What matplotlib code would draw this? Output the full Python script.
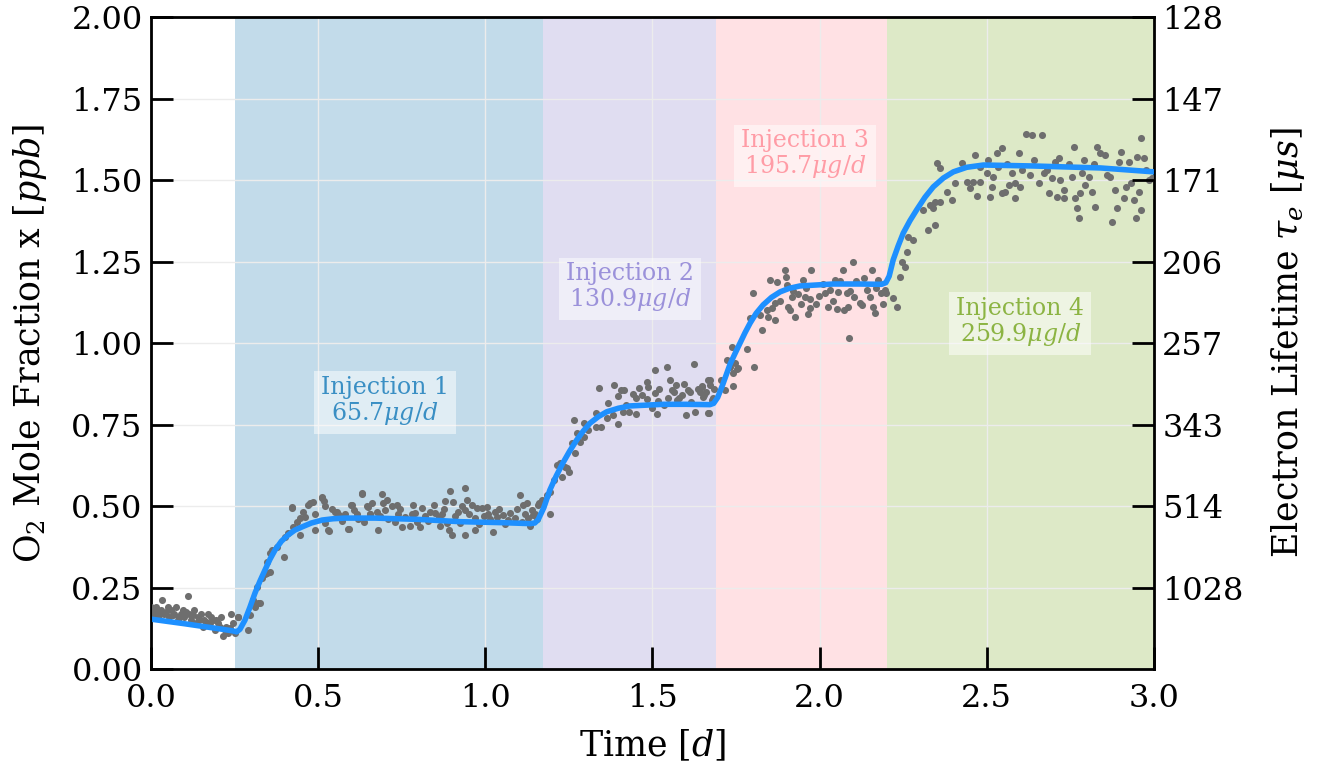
"""
O2 injection steps: measured mole fraction vs. time with fitted model.
"""

import numpy as np
import matplotlib.pyplot as plt

plt.rcParams["font.family"] = "DejaVu Serif"
plt.rcParams["mathtext.fontset"] = "dejavuserif"

# --- Injection periods [d] and labels ---
inj_starts = [0.25, 1.1726, 1.690, 2.2017]
inj_ends = [1.1726, 1.690, 2.2017, 3.0]
inj_labels = ["Injection 1\n65.7$\\mu g/d$", "Injection 2\n130.9$\\mu g/d$",
              "Injection 3\n195.7$\\mu g/d$", "Injection 4\n259.9$\\mu g/d$"]
inj_label_x = [0.70, 1.433, 1.956, 2.60]
inj_label_y = [0.82, 1.169, 1.577, 1.064]
span_colors = ["#c2dbea", "#e0ddf1", "#ffe1e4", "#dde9c7"]
text_colors = ["#3a8fc4", "#9b91da", "#ff9ca6", "#8cb443"]

# --- Right axis: electron lifetime labels ---
lifetime_ticks = [0.25, 0.50, 0.75, 1.00, 1.25, 1.50, 1.75, 2.00]
lifetime_labels = ["1028", "514", "343", "257", "206", "171", "147", "128"]

# --- Fitted model curve ---
fit_t = [0.0, 0.1, 0.2, 0.245, 0.256, 0.266, 0.281, 0.296, 0.311, 0.326, 0.341,
         0.356, 0.371, 0.39, 0.41, 0.43, 0.452, 0.48, 0.512, 0.545, 0.58, 0.67,
         0.8, 0.924, 1.05, 1.135, 1.148, 1.158, 1.175, 1.193, 1.212, 1.232,
         1.252, 1.273, 1.293, 1.313, 1.338, 1.363, 1.398, 1.433, 1.532, 1.60,
         1.672, 1.683, 1.695, 1.71, 1.732, 1.747, 1.762, 1.777, 1.792, 1.81,
         1.831, 1.856, 1.882, 1.91, 1.941, 2.04, 2.12, 2.185, 2.198, 2.208,
         2.22, 2.235, 2.25, 2.27, 2.29, 2.315, 2.34, 2.37, 2.40, 2.44, 2.49,
         2.64, 2.84, 3.0]
fit_x = [0.153, 0.139, 0.124, 0.117, 0.114, 0.122, 0.150, 0.190, 0.233, 0.270,
         0.304, 0.337, 0.365, 0.392, 0.411, 0.426, 0.436, 0.448, 0.457, 0.461,
         0.463, 0.463, 0.459, 0.452, 0.449, 0.446, 0.448, 0.458, 0.495, 0.549,
         0.592, 0.632, 0.668, 0.702, 0.730, 0.754, 0.774, 0.789, 0.800, 0.807,
         0.812, 0.812, 0.811, 0.815, 0.833, 0.872, 0.935, 0.968, 1.000, 1.032,
         1.061, 1.091, 1.117, 1.140, 1.157, 1.168, 1.175, 1.181, 1.181, 1.180,
         1.185, 1.205, 1.255, 1.298, 1.337, 1.375, 1.408, 1.447, 1.479, 1.506,
         1.525, 1.539, 1.546, 1.543, 1.537, 1.525]

# --- Measured points (time [d], mole fraction [ppb]) ---
meas_t = [
    0.000, 0.005, 0.010, 0.015, 0.020, 0.030, 0.032, 0.040, 0.050, 0.055,
    0.060, 0.070, 0.075, 0.080, 0.090, 0.095, 0.100, 0.110, 0.115, 0.120,
    0.130, 0.135, 0.140, 0.150, 0.155, 0.160, 0.170, 0.175, 0.180, 0.190,
    0.195, 0.200, 0.210, 0.215, 0.220, 0.225, 0.230, 0.240, 0.245, 0.250,
    0.260, 0.261, 0.290, 0.296, 0.305, 0.306, 0.310, 0.316, 0.320, 0.326,
    0.331, 0.341, 0.346, 0.346, 0.356, 0.356, 0.361, 0.376, 0.399, 0.401,
    0.411, 0.421, 0.423, 0.426, 0.436, 0.446, 0.446, 0.456, 0.461, 0.471,
    0.476, 0.486, 0.491, 0.491, 0.510, 0.511, 0.516, 0.521, 0.530, 0.531,
    0.551, 0.556, 0.561, 0.581, 0.590, 0.591, 0.599, 0.600, 0.606, 0.616,
    0.630, 0.631, 0.636, 0.645, 0.649, 0.655, 0.656, 0.675, 0.680, 0.690,
    0.695, 0.700, 0.705, 0.730, 0.735, 0.740, 0.750, 0.780, 0.785, 0.795,
    0.805, 0.810, 0.835, 0.845, 0.860, 0.870, 0.880, 0.885, 0.890, 0.894,
    0.899, 0.904, 0.919, 0.924, 0.939, 0.939, 0.939, 0.944, 0.959, 0.969,
    0.969, 0.974, 0.989, 1.004, 1.009, 1.024, 1.029, 1.034, 1.054, 1.069,
    1.089, 1.104, 1.114, 1.119, 1.129, 1.139, 1.144, 1.149, 1.159, 1.162,
    1.184, 1.194, 1.194, 1.204, 1.214, 1.224, 1.229, 1.239, 1.244, 1.249,
    1.259, 1.265, 1.268, 1.274, 1.282, 1.294, 1.295, 1.307, 1.331, 1.331,
    1.341, 1.346, 1.363, 1.366, 1.381, 1.386, 1.396, 1.396, 1.406, 1.411,
    1.416, 1.431, 1.441, 1.451, 1.461, 1.483, 1.483, 1.488, 1.508, 1.508,
    1.513, 1.518, 1.533, 1.543, 1.553, 1.558, 1.563, 1.573, 1.578, 1.588,
    1.593, 1.600, 1.605, 1.613, 1.625, 1.626, 1.643, 1.647, 1.648, 1.652,
    1.653, 1.667, 1.667, 1.668, 1.672, 1.673, 1.677, 1.682, 1.704, 1.717,
    1.722, 1.732, 1.737, 1.740, 1.742, 1.747, 1.752, 1.757, 1.782, 1.792,
    1.802, 1.805, 1.822, 1.827, 1.842, 1.847, 1.852, 1.857, 1.867, 1.867,
    1.872, 1.897, 1.899, 1.903, 1.906, 1.911, 1.916, 1.926, 1.936, 1.944,
    1.951, 1.956, 1.966, 1.971, 1.971, 1.973, 1.999, 2.016, 2.026, 2.031,
    2.046, 2.051, 2.056, 2.069, 2.073, 2.081, 2.086, 2.088, 2.101, 2.103,
    2.121, 2.126, 2.133, 2.141, 2.158, 2.160, 2.165, 2.175, 2.185, 2.195,
    2.200, 2.220, 2.230, 2.240, 2.245, 2.254, 2.260, 2.265, 2.280, 2.310,
    2.325, 2.330, 2.340, 2.345, 2.345, 2.350, 2.360, 2.360, 2.380, 2.395,
    2.405, 2.425, 2.440, 2.450, 2.460, 2.465, 2.470, 2.480, 2.505, 2.510,
    2.515, 2.520, 2.530, 2.535, 2.545, 2.545, 2.555, 2.565, 2.575, 2.585,
    2.585, 2.595, 2.605, 2.618, 2.630, 2.635, 2.655, 2.665, 2.670, 2.685,
    2.695, 2.705, 2.710, 2.715, 2.730, 2.730, 2.755, 2.760, 2.765, 2.770,
    2.775, 2.780, 2.790, 2.795, 2.805, 2.815, 2.825, 2.830, 2.840, 2.855,
    2.860, 2.875, 2.885, 2.890, 2.895, 2.902, 2.910, 2.915, 2.925, 2.940,
    2.945, 2.950, 2.955, 2.960, 2.962, 2.970, 2.985, 2.995,
    # denser clusters
    0.000, 0.012, 0.025, 0.045, 0.065, 0.085, 0.105, 0.125, 0.145, 0.165,
    0.185, 0.205, 0.235, 0.520, 0.540, 0.570, 0.620, 0.660, 0.685, 0.710,
    0.720, 0.745, 0.760, 0.775, 0.790, 0.820, 0.830, 0.850, 0.865, 0.875,
    0.910, 0.930, 0.950, 0.980, 0.995, 1.015, 1.040, 1.060, 1.075, 1.095,
    1.110, 1.125, 1.135, 1.155, 1.170, 1.420, 1.450, 1.470, 1.500, 1.520,
    1.545, 1.570, 1.615, 1.635, 1.660, 1.685, 1.880, 1.920, 1.960, 1.990,
    2.010, 2.040, 2.060, 2.090, 2.110, 2.150, 2.170, 2.190, 2.480, 2.500,
    2.560, 2.600, 2.640, 2.680, 2.720, 2.745, 2.785, 2.820, 2.870, 2.930,
    2.975,
]
meas_x = [
    0.170, 0.180, 0.160, 0.190, 0.170, 0.180, 0.212, 0.170, 0.190, 0.160,
    0.180, 0.170, 0.190, 0.150, 0.170, 0.180, 0.160, 0.224, 0.170, 0.150,
    0.180, 0.140, 0.160, 0.170, 0.130, 0.150, 0.170, 0.140, 0.160, 0.120,
    0.150, 0.140, 0.160, 0.100, 0.120, 0.130, 0.110, 0.170, 0.140, 0.110,
    0.160, 0.160, 0.120, 0.166, 0.206, 0.212, 0.190, 0.252, 0.202, 0.202,
    0.278, 0.293, 0.329, 0.294, 0.298, 0.355, 0.365, 0.375, 0.344, 0.406,
    0.416, 0.496, 0.493, 0.437, 0.452, 0.462, 0.411, 0.482, 0.467, 0.503,
    0.508, 0.513, 0.477, 0.426, 0.529, 0.526, 0.516, 0.447, 0.426, 0.424,
    0.482, 0.483, 0.472, 0.477, 0.428, 0.428, 0.503, 0.503, 0.488, 0.477,
    0.537, 0.539, 0.452, 0.500, 0.498, 0.477, 0.477, 0.482, 0.426, 0.537,
    0.508, 0.488, 0.518, 0.452, 0.503, 0.477, 0.437, 0.477, 0.503, 0.452,
    0.437, 0.493, 0.482, 0.503, 0.467, 0.477, 0.516, 0.447, 0.426, 0.545,
    0.411, 0.513, 0.482, 0.447, 0.555, 0.488, 0.411, 0.518, 0.503, 0.462,
    0.426, 0.493, 0.493, 0.498, 0.477, 0.421, 0.482, 0.467, 0.472, 0.457,
    0.462, 0.534, 0.503, 0.477, 0.462, 0.487, 0.472, 0.477, 0.503, 0.508,
    0.534, 0.477, 0.544, 0.580, 0.626, 0.631, 0.590, 0.621, 0.616, 0.605,
    0.692, 0.764, 0.662, 0.723, 0.697, 0.713, 0.755, 0.733, 0.743, 0.784,
    0.861, 0.743, 0.769, 0.815, 0.779, 0.871, 0.753, 0.837, 0.857, 0.789,
    0.857, 0.789, 0.843, 0.782, 0.861, 0.881, 0.827, 0.866, 0.917, 0.846,
    0.782, 0.822, 0.809, 0.927, 0.888, 0.856, 0.851, 0.825, 0.830, 0.840,
    0.874, 0.779, 0.856, 0.851, 0.935, 0.789, 0.851, 0.866, 0.868, 0.835,
    0.840, 0.886, 0.784, 0.784, 0.871, 0.888, 0.825, 0.830, 0.886, 0.856,
    0.948, 0.927, 0.989, 0.907, 0.868, 0.938, 0.919, 0.922, 0.982, 1.076,
    1.154, 0.927, 1.086, 1.041, 1.101, 1.081, 1.193, 1.106, 1.123, 1.070,
    1.187, 1.223, 1.204, 1.178, 1.111, 1.101, 1.142, 1.081, 1.150, 1.119,
    1.193, 1.142, 1.090, 1.106, 1.134, 1.224, 1.143, 1.154, 1.111, 1.164,
    1.193, 1.103, 1.157, 1.224, 1.101, 1.152, 1.111, 1.014, 1.250, 1.142,
    1.124, 1.116, 1.198, 1.162, 1.224, 1.109, 1.093, 1.193, 1.152, 1.164,
    1.152, 1.137, 1.112, 1.204, 1.250, 1.234, 1.280, 1.326, 1.316, 1.408,
    1.347, 1.423, 1.413, 1.362, 1.433, 1.551, 1.433, 1.536, 1.464, 1.439,
    1.490, 1.551, 1.495, 1.474, 1.495, 1.577, 1.450, 1.495, 1.561, 1.449,
    1.479, 1.510, 1.582, 1.541, 1.597, 1.459, 1.464, 1.485, 1.520, 1.444,
    1.490, 1.582, 1.530, 1.640, 1.515, 1.637, 1.490, 1.637, 1.520, 1.459,
    1.505, 1.556, 1.449, 1.566, 1.444, 1.469, 1.510, 1.602, 1.444, 1.413,
    1.385, 1.459, 1.561, 1.485, 1.510, 1.464, 1.418, 1.602, 1.582, 1.576,
    1.515, 1.372, 1.469, 1.413, 1.556, 1.587, 1.444, 1.479, 1.556, 1.439,
    1.382, 1.571, 1.464, 1.408, 1.630, 1.566, 1.500, 1.505,
    # denser clusters
    0.190, 0.175, 0.165, 0.175, 0.165, 0.160, 0.175, 0.165, 0.150, 0.145,
    0.150, 0.130, 0.125, 0.500, 0.490, 0.455, 0.460, 0.510, 0.470, 0.460,
    0.500, 0.490, 0.465, 0.440, 0.480, 0.470, 0.455, 0.480, 0.440, 0.490,
    0.470, 0.500, 0.475, 0.445, 0.470, 0.460, 0.490, 0.445, 0.480, 0.490,
    0.450, 0.510, 0.440, 0.460, 0.520, 0.810, 0.830, 0.840, 0.800, 0.860,
    0.830, 0.870, 0.820, 0.860, 0.850, 0.860, 1.130, 1.160, 1.170, 1.120,
    1.180, 1.130, 1.190, 1.160, 1.190, 1.140, 1.170, 1.120, 1.540, 1.520,
    1.550, 1.480, 1.560, 1.530, 1.500, 1.550, 1.520, 1.550, 1.510, 1.490,
    1.530,
]

# --- Figure ---
fig = plt.figure(figsize=(13.2, 7.73), dpi=100)
ax = fig.add_axes([0.1144, 0.1345, 0.7598, 0.8435])

for start, end, col in zip(inj_starts, inj_ends, span_colors):
    ax.axvspan(start, end, color=col, lw=0, zorder=0)

ax.grid(True, color="#ececec", lw=1.0, zorder=1)
ax.set_axisbelow(True)

ax.scatter(meas_t, meas_x, s=26, color="#6e6e6e", lw=0, zorder=3)
ax.plot(fit_t, fit_x, color="#1e90ff", lw=4, zorder=4, solid_capstyle="round")

for lab, tx, ty, col in zip(inj_labels, inj_label_x, inj_label_y, text_colors):
    ax.text(tx, ty, lab, color=col, fontsize=17, ha="center", va="center",
            zorder=5, linespacing=1.05,
            bbox=dict(facecolor="white", alpha=0.5, edgecolor="none", pad=5))

ax.set_xlim(0, 3)
ax.set_ylim(0, 2)
ax.set_xticks([0.0, 0.5, 1.0, 1.5, 2.0, 2.5, 3.0])
ax.set_xticklabels(["0.0", "0.5", "1.0", "1.5", "2.0", "2.5", "3.0"])
ax.set_yticks([0.0, 0.25, 0.5, 0.75, 1.0, 1.25, 1.5, 1.75, 2.0])
ax.set_yticklabels(["0.00", "0.25", "0.50", "0.75", "1.00", "1.25", "1.50", "1.75", "2.00"])
ax.tick_params(direction="in", length=16, width=2, labelsize=23, pad=6)
ax.tick_params(axis="x", pad=10)
for sp in ax.spines.values():
    sp.set_linewidth(2)

ax.set_xlabel("Time [$d$]", fontsize=25, labelpad=10)
ax.set_ylabel("O$_2$ Mole Fraction x [$ppb$]", fontsize=25, labelpad=16)

ax2 = ax.twinx()
ax2.set_ylim(0, 2)
ax2.set_yticks(lifetime_ticks)
ax2.set_yticklabels(lifetime_labels)
ax2.tick_params(direction="in", length=16, width=2, labelsize=23, pad=6)
ax2.set_ylabel("Electron Lifetime $\\tau_e$ [$\\mu s$]", fontsize=25, labelpad=18)

fig.savefig("out.png", dpi=100)
